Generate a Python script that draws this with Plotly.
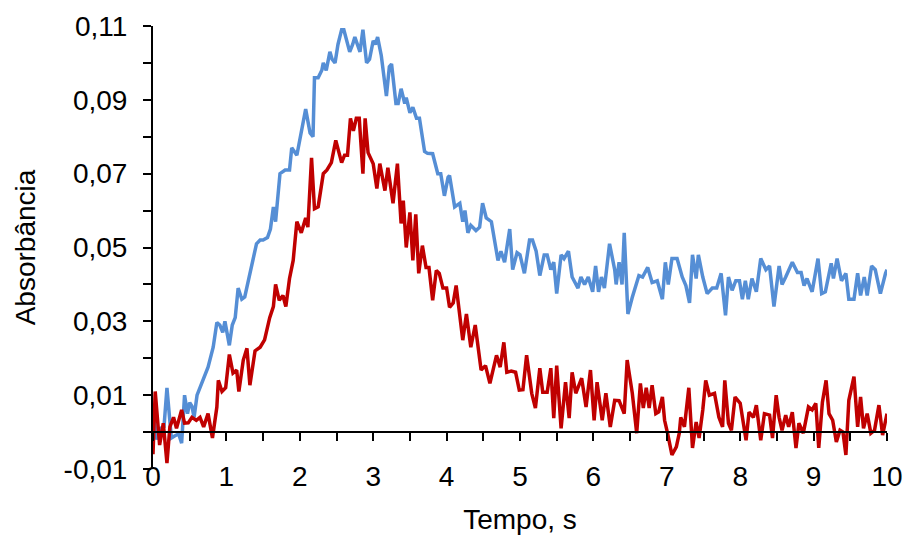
import plotly.graph_objects as go

# ---- data ----
time_blue = [0.00, 0.05, 0.10, 0.15, 0.19, 0.25, 0.30, 0.35, 0.39, 0.43, 0.47, 0.50, 0.53, 0.56, 0.60, 0.64,
             0.70, 0.75, 0.82, 0.87, 0.91, 0.95, 0.98, 1.04, 1.08, 1.12, 1.16, 1.21, 1.25, 1.32, 1.36, 1.41,
             1.46, 1.50, 1.56, 1.60, 1.64, 1.67, 1.73, 1.80, 1.86, 1.89, 1.96, 2.03, 2.08, 2.14, 2.18, 2.20,
             2.25, 2.30, 2.32, 2.36, 2.41, 2.44, 2.48, 2.52, 2.57, 2.60, 2.64, 2.68, 2.72, 2.75, 2.82, 2.86,
             2.91, 2.95, 3.00, 3.03, 3.06, 3.11, 3.18, 3.22, 3.25, 3.31, 3.34, 3.38, 3.43, 3.45, 3.50, 3.54,
             3.59, 3.63, 3.70, 3.74, 3.81, 3.88, 3.92, 3.97, 4.02, 4.04, 4.11, 4.18, 4.22, 4.25, 4.29, 4.33,
             4.40, 4.45, 4.49, 4.54, 4.61, 4.70, 4.74, 4.79, 4.86, 4.90, 4.96, 5.00, 5.06, 5.13, 5.17, 5.22,
             5.27, 5.33, 5.37, 5.42, 5.46, 5.50, 5.56, 5.60, 5.66, 5.71, 5.79, 5.83, 5.88, 5.93, 5.99, 6.03,
             6.07, 6.11, 6.15, 6.22, 6.29, 6.31, 6.35, 6.39, 6.42, 6.47, 6.53, 6.62, 6.67, 6.74, 6.80, 6.87,
             6.94, 6.98, 7.02, 7.07, 7.14, 7.21, 7.26, 7.31, 7.35, 7.40, 7.43, 7.49, 7.55, 7.62, 7.68, 7.74,
             7.80, 7.84, 7.89, 7.94, 7.99, 8.03, 8.07, 8.11, 8.16, 8.22, 8.28, 8.35, 8.40, 8.46, 8.53, 8.57,
             8.62, 8.71, 8.78, 8.83, 8.87, 8.91, 8.98, 9.06, 9.11, 9.16, 9.24, 9.27, 9.32, 9.38, 9.44, 9.48,
             9.55, 9.60, 9.64, 9.69, 9.73, 9.79, 9.84, 9.91, 9.98, 10.00]
abs_blue = [0.0065, -0.0020, 0.0010, 0.0015, 0.0120, -0.0016, -0.0010, -0.0005, -0.0030, 0.0100, 0.0050, 0.0080,
            0.0070, 0.0040, 0.0100, 0.0120, 0.0150, 0.0176, 0.0230, 0.0297, 0.0290, 0.0270, 0.0300, 0.0235,
            0.0290, 0.0310, 0.0390, 0.0360, 0.0366, 0.0430, 0.0460, 0.0510, 0.0520, 0.0520, 0.0527, 0.0550,
            0.0610, 0.0570, 0.0700, 0.0710, 0.0710, 0.0770, 0.0750, 0.0820, 0.0875, 0.0810, 0.0800, 0.0960,
            0.0960, 0.0980, 0.1000, 0.0980, 0.1030, 0.1010, 0.1000, 0.1050, 0.1090, 0.1090, 0.1060, 0.1030,
            0.1050, 0.1070, 0.1030, 0.1090, 0.1000, 0.1010, 0.1060, 0.1050, 0.1070, 0.1020, 0.0910, 0.0990,
            0.0997, 0.0890, 0.0890, 0.0930, 0.0890, 0.0906, 0.0865, 0.0880, 0.0850, 0.0850, 0.0760, 0.0755,
            0.0754, 0.0700, 0.0700, 0.0640, 0.0690, 0.0695, 0.0610, 0.0620, 0.0570, 0.0600, 0.0540, 0.0560,
            0.0546, 0.0555, 0.0620, 0.0580, 0.0570, 0.0465, 0.0490, 0.0460, 0.0550, 0.0440, 0.0486, 0.0480,
            0.0430, 0.0520, 0.0520, 0.0490, 0.0424, 0.0480, 0.0480, 0.0440, 0.0460, 0.0375, 0.0480, 0.0470,
            0.0490, 0.0420, 0.0390, 0.0420, 0.0400, 0.0420, 0.0380, 0.0450, 0.0380, 0.0420, 0.0390, 0.0510,
            0.0440, 0.0400, 0.0460, 0.0400, 0.0540, 0.0320, 0.0365, 0.0424, 0.0420, 0.0446, 0.0405, 0.0410,
            0.0360, 0.0460, 0.0400, 0.0470, 0.0470, 0.0420, 0.0397, 0.0350, 0.0480, 0.0416, 0.0480, 0.0420,
            0.0375, 0.0390, 0.0390, 0.0430, 0.0316, 0.0420, 0.0384, 0.0410, 0.0410, 0.0360, 0.0410, 0.0360,
            0.0416, 0.0380, 0.0470, 0.0440, 0.0450, 0.0340, 0.0450, 0.0400, 0.0420, 0.0460, 0.0432, 0.0432,
            0.0397, 0.0416, 0.0380, 0.0470, 0.0375, 0.0380, 0.0457, 0.0416, 0.0470, 0.0410, 0.0430, 0.0360,
            0.0360, 0.0430, 0.0370, 0.0420, 0.0370, 0.0450, 0.0440, 0.0375, 0.0430, 0.0440]

time_red = [0.00, 0.03, 0.07, 0.09, 0.14, 0.19, 0.23, 0.28, 0.32, 0.39, 0.43, 0.48, 0.53, 0.59, 0.64, 0.69,
            0.75, 0.81, 0.87, 0.89, 0.94, 0.99, 1.04, 1.09, 1.14, 1.17, 1.23, 1.28, 1.32, 1.39, 1.46, 1.52,
            1.59, 1.64, 1.67, 1.72, 1.77, 1.81, 1.86, 1.91, 1.96, 2.02, 2.08, 2.11, 2.16, 2.20, 2.25, 2.32,
            2.37, 2.43, 2.49, 2.57, 2.61, 2.65, 2.69, 2.73, 2.77, 2.81, 2.86, 2.89, 2.93, 3.00, 3.05, 3.09,
            3.16, 3.20, 3.27, 3.33, 3.38, 3.41, 3.45, 3.50, 3.54, 3.58, 3.62, 3.67, 3.72, 3.76, 3.81, 3.86,
            3.90, 3.95, 4.00, 4.04, 4.09, 4.13, 4.22, 4.27, 4.33, 4.39, 4.47, 4.53, 4.59, 4.68, 4.73, 4.78,
            4.82, 4.88, 4.94, 4.99, 5.04, 5.09, 5.16, 5.21, 5.27, 5.31, 5.37, 5.42, 5.46, 5.50, 5.56, 5.62,
            5.67, 5.71, 5.76, 5.84, 5.90, 5.96, 6.01, 6.05, 6.12, 6.17, 6.23, 6.29, 6.35, 6.42, 6.46, 6.53,
            6.59, 6.64, 6.68, 6.72, 6.76, 6.80, 6.85, 6.89, 6.94, 6.97, 7.01, 7.07, 7.13, 7.17, 7.19, 7.24,
            7.30, 7.35, 7.40, 7.44, 7.49, 7.53, 7.58, 7.65, 7.71, 7.76, 7.79, 7.84, 7.88, 7.93, 8.00, 8.08,
            8.12, 8.18, 8.22, 8.28, 8.33, 8.40, 8.44, 8.49, 8.53, 8.57, 8.62, 8.66, 8.71, 8.76, 8.80, 8.86,
            8.93, 8.98, 9.03, 9.07, 9.12, 9.17, 9.21, 9.26, 9.31, 9.36, 9.40, 9.44, 9.48, 9.55, 9.60, 9.64,
            9.68, 9.73, 9.78, 9.83, 9.89, 9.94, 10.00]
abs_red = [-0.0060, 0.0110, 0.0014, -0.0035, 0.0024, -0.0084, 0.0014, 0.0040, 0.0010, 0.0060, 0.0024, 0.0025,
           0.0040, 0.0032, 0.0040, 0.0014, 0.0050, -0.0016, 0.0068, 0.0140, 0.0110, 0.0120, 0.0210, 0.0160,
           0.0168, 0.0110, 0.0195, 0.0227, 0.0127, 0.0220, 0.0230, 0.0250, 0.0310, 0.0340, 0.0400, 0.0357,
           0.0370, 0.0340, 0.0416, 0.0465, 0.0570, 0.0540, 0.0580, 0.0555, 0.0743, 0.0605, 0.0610, 0.0700,
           0.0710, 0.0730, 0.0790, 0.0730, 0.0750, 0.0750, 0.0850, 0.0816, 0.0850, 0.0850, 0.0700, 0.0850,
           0.0757, 0.0727, 0.0660, 0.0727, 0.0654, 0.0716, 0.0620, 0.0727, 0.0565, 0.0627, 0.0500, 0.0595,
           0.0465, 0.0590, 0.0430, 0.0505, 0.0446, 0.0446, 0.0357, 0.0438, 0.0430, 0.0390, 0.0390, 0.0338,
           0.0350, 0.0397, 0.0249, 0.0320, 0.0230, 0.0290, 0.0168, 0.0180, 0.0132, 0.0208, 0.0176, 0.0243,
           0.0162, 0.0165, 0.0162, 0.0114, 0.0115, 0.0208, 0.0105, 0.0065, 0.0173, 0.0108, 0.0108, 0.0173,
           0.0038, 0.0180, 0.0010, 0.0135, 0.0038, 0.0162, 0.0105, 0.0146, 0.0068, 0.0168, 0.0032, 0.0135,
           0.0032, 0.0105, 0.0014, 0.0086, 0.0085, 0.0050, 0.0195, 0.0105, -0.0003, 0.0132, 0.0065, 0.0120,
           0.0065, 0.0127, 0.0050, 0.0055, 0.0095, 0.0032, -0.0003, -0.0062, -0.0040, -0.0003, 0.0040, 0.0014,
           0.0120, -0.0043, 0.0027, -0.0016, 0.0060, 0.0140, 0.0100, 0.0105, 0.0040, 0.0014, 0.0140, 0.0024,
           0.0005, 0.0095, 0.0078, -0.0022, 0.0054, 0.0040, 0.0073, -0.0022, 0.0050, 0.0046, -0.0016, 0.0100,
           0.0040, 0.0005, 0.0046, 0.0014, 0.0054, -0.0043, 0.0024, -0.0003, 0.0068, 0.0060, 0.0078, -0.0043,
           0.0081, 0.0140, 0.0050, 0.0032, -0.0027, 0.0005, 0.0000, -0.0062, 0.0086, 0.0150, 0.0014, 0.0095,
           0.0010, 0.0050, -0.0003, 0.0005, 0.0073, -0.0008, 0.0050]

x_ticks = [0, 1, 2, 3, 4, 5, 6, 7, 8, 9, 10]
x_ticklabels = ["0", "1", "2", "3", "4", "5", "6", "7", "8", "9", "10"]
x_minor = [0.5, 1.5, 2.5, 3.5, 4.5, 5.5, 6.5, 7.5, 8.5, 9.5]
y_ticks = [-0.01, 0.01, 0.03, 0.05, 0.07, 0.09, 0.11]
y_ticklabels = ["-0,01", "0,01", "0,03", "0,05", "0,07", "0,09", "0,11"]
y_minor = [0.0, 0.02, 0.04, 0.06, 0.08, 0.10]

FONT = "Liberation Sans, Arial, sans-serif"

fig = go.Figure()
fig.add_trace(go.Scatter(x=time_blue, y=abs_blue, mode="lines",
                         line=dict(color="#558ED5", width=3.5), showlegend=False))
fig.add_trace(go.Scatter(x=time_red, y=abs_red, mode="lines",
                         line=dict(color="#C00000", width=3.5), showlegend=False))

fig.update_layout(
    width=906, height=535,
    margin=dict(l=153, r=19, t=26, b=66),
    paper_bgcolor="white", plot_bgcolor="white",
    font=dict(family=FONT, color="black", size=28),
    showlegend=False,
    xaxis=dict(
        range=[0, 10], anchor="free", position=1 / 12, automargin=False,
        tickmode="array", tickvals=x_ticks, ticktext=x_ticklabels,
        ticks="outside", ticklen=8, tickwidth=2, tickcolor="black",
        showline=True, linecolor="black", linewidth=2,
        showgrid=False, zeroline=False,
        minor=dict(tickmode="array", tickvals=x_minor, ticks="outside",
                   ticklen=8, tickwidth=2, tickcolor="black", showgrid=False),
        tickfont=dict(size=28, family=FONT),
        ticklabelstandoff=11,
        title=dict(text="Tempo, s", font=dict(size=28, family=FONT), standoff=21),
    ),
    yaxis=dict(
        range=[-0.01, 0.11], domain=[0, 1], automargin=False,
        tickmode="array", tickvals=y_ticks, ticktext=y_ticklabels,
        ticks="outside", ticklen=8, tickwidth=2, tickcolor="black",
        showline=True, linecolor="black", linewidth=2,
        showgrid=False, zeroline=False,
        minor=dict(tickmode="array", tickvals=y_minor, ticks="outside",
                   ticklen=8, tickwidth=2, tickcolor="black", showgrid=False),
        tickfont=dict(size=28, family=FONT),
        ticklabelstandoff=10,
        title=dict(text="Absorbância", font=dict(size=28, family=FONT), standoff=20),
    ),
)

fig.write_html("out.html")
